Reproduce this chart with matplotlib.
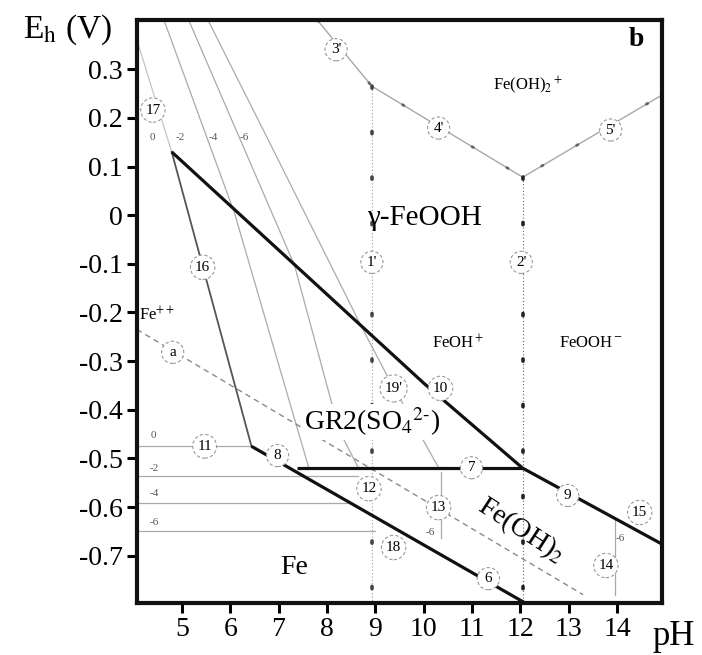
import matplotlib
matplotlib.use("Agg")
import matplotlib.pyplot as plt

plt.rcParams['font.family'] = ['Liberation Serif', 'DejaVu Serif']
plt.rcParams['mathtext.fontset'] = 'stix'
plt.rcParams['axes.unicode_minus'] = False

# ---- axis ticks ----
ph_ticks = [5, 6, 7, 8, 9, 10, 11, 12, 13, 14]
eh_ticks = [0.3, 0.2, 0.1, 0.0, -0.1, -0.2, -0.3, -0.4, -0.5, -0.6, -0.7]
eh_ticklabels = ['0.3', '0.2', '0.1', '0', '-0.1', '-0.2', '-0.3',
                 '-0.4', '-0.5', '-0.6', '-0.7']

# ---- thick phase boundaries ----
gr_feooh_ph = [4.79, 10.0, 12.05, 14.93]      # GR2 / Fe(OH)2 vs gamma-FeOOH
gr_feooh_eh = [0.130, -0.345, -0.520, -0.676]
gr_feoh2_ph = [7.39, 12.05]                   # horizontal boundary (7)
gr_feoh2_eh = [-0.520, -0.520]
fe_ph = [6.44, 12.10]                         # Fe boundary (8)-(6)
fe_eh = [-0.475, -0.797]

# ---- Fe2+ / GR2 line (16) ----
l16_ph = [4.79, 6.44]
l16_eh = [0.130, -0.475]

# ---- Fe2+ / gamma-FeOOH lines (17) for log a(Fe2+) = 0, -2, -4, -6 ----
l17_0_ph = [4.07, 4.79]
l17_0_eh = [0.360, 0.130]
l17_2_ph = [4.63, 6.09, 7.63]
l17_2_eh = [0.401, 0.004, -0.521]
l17_4_ph = [5.14, 7.33, 8.25, 8.66]
l17_4_eh = [0.401, -0.103, -0.442, -0.521]
l17_6_ph = [5.54, 6.77, 8.72, 9.22, 10.31]
l17_6_eh = [0.401, 0.158, -0.230, -0.325, -0.519]
conc_labels = ['0', '-2', '-4', '-6']
conc_label_ph = [4.38, 4.96, 5.64, 6.30]
conc_label_eh = 0.160

# ---- Fe2+ / Fe horizontal lines (11) ----
fe2_levels = [-0.475, -0.535, -0.592, -0.650]
fe2_end_ph = [6.44, 8.65, 8.50, 9.00]
fe2_label_eh = [-0.453, -0.521, -0.572, -0.632]
fe2_label_ph = 4.42

# ---- water line (a) ----
water_ph = [4.07, 13.30]
water_eh = [-0.235, -0.780]

# ---- Fe(III) species line (3', 4', 5') ----
fe3_ph = [7.80, 8.93, 12.05, 14.93]
fe3_eh = [0.401, 0.265, 0.078, 0.247]

# ---- vertical speciation lines ----
v1_ph, v1_eh = [8.93, 8.93], [0.265, -0.797]     # (1')
v2_ph, v2_eh = [12.05, 12.05], [0.078, -0.797]   # (2')
v13_ph, v13_eh = [10.35, 10.35], [-0.527, -0.663]
v14_ph, v14_eh = [13.95, 13.95], [-0.626, -0.780]
minus6_ph = [10.14, 14.07]
minus6_eh = [-0.652, -0.665]

# ---- numbered circles ----
circ_labels = ["3'", "4'", "5'", "17", "16", "1'", "2'", "a", "19'", "10",
               "11", "8", "7", "9", "12", "13", "15", "18", "6", "14"]
circ_ph = [8.19, 10.31, 13.87, 4.40, 5.43, 8.93, 12.02, 4.81, 9.38, 10.35,
           5.47, 6.98, 10.99, 12.98, 8.87, 10.31, 14.47, 9.38, 11.34, 13.77]
circ_eh = [0.340, 0.179, 0.175, 0.216, -0.107, -0.097, -0.097, -0.282, -0.356,
           -0.356, -0.475, -0.494, -0.519, -0.576, -0.562, -0.601, -0.611,
           -0.683, -0.747, -0.720]

fig = plt.figure(figsize=(7.02, 6.55), dpi=100)
ax = fig.add_axes([0.195, 0.0794, 0.748, 0.890])
ax.set_xlim(4.07, 14.93)
ax.set_ylim(-0.797, 0.401)

thin = dict(color='#aaaaaa', lw=0.9, zorder=2)
thick = dict(color='#111111', lw=2.3, zorder=4, solid_capstyle='butt')

# light grey lines
ax.plot(l17_0_ph, l17_0_eh, color='#c4c4c4', lw=0.9, zorder=2)
ax.plot(l17_2_ph, l17_2_eh, **thin)
ax.plot(l17_4_ph, l17_4_eh, **thin)
ax.plot(l17_6_ph, l17_6_eh, **thin)
for lev, end in zip(fe2_levels, fe2_end_ph):
    ax.plot([4.07, end], [lev, lev], **thin)
ax.plot(fe3_ph, fe3_eh, color='#a8a8a8', lw=1.0, zorder=2)
ax.plot(fe3_ph, fe3_eh, color='#666666', lw=2.0, ls=(0, (0.6, 14)),
        dash_capstyle='round', zorder=2)
ax.plot(v13_ph, v13_eh, **thin)
ax.plot(v14_ph, v14_eh, **thin)

# line 16
ax.plot(l16_ph, l16_eh, color='#555555', lw=1.3, zorder=3)

# water line
ax.plot(water_ph, water_eh, color='#8a8a8a', lw=1.0, ls=(0, (4, 3)), zorder=2)

# dotted verticals
for vx, vy, c, dc in [(v1_ph, v1_eh, '#999999', '#444444'),
                      (v2_ph, v2_eh, '#666666', '#222222')]:
    ax.plot(vx, vy, color=c, lw=0.8, ls=(0, (1, 2)), zorder=2)
    ax.plot(vx, vy, color=dc, lw=2.6, ls=(0, (0.6, 12)),
            dash_capstyle='round', zorder=2)

# thick boundaries
ax.plot(gr_feooh_ph, gr_feooh_eh, **thick)
ax.plot(gr_feoh2_ph, gr_feoh2_eh, **thick)
ax.plot(fe_ph, fe_eh, **thick)

# concentration labels
for lab, x in zip(conc_labels, conc_label_ph):
    ax.text(x, conc_label_eh, lab, fontsize=8, color='#555555',
            ha='center', va='center', zorder=6)
for lab, y in zip(conc_labels, fe2_label_eh):
    ax.text(fe2_label_ph, y, lab, fontsize=8, color='#555555',
            ha='center', va='center', zorder=6)
for x, y in zip(minus6_ph, minus6_eh):
    ax.text(x, y, '-6', fontsize=8, color='#555555',
            ha='center', va='center', zorder=6)

# numbered circles
for lab, x, y in zip(circ_labels, circ_ph, circ_eh):
    ax.text(x, y, lab, fontsize=11, ha='center', va='center', zorder=7,
            bbox=dict(boxstyle='circle,pad=0.3', fc='white', ec='#9a9a9a',
                      lw=0.8, ls=(0, (3, 2))))

# region labels
ax.text(10.02, -0.006, 'γ-FeOOH', fontsize=21, ha='center', va='center', zorder=6)
ax.text(8.93, -0.425, r'GR2(SO$_4$$^{2\text{-}}$)', fontsize=20,
        ha='center', va='center', zorder=6,
        bbox=dict(boxstyle='square,pad=0.05', fc='white', ec='none'))
ax.text(12.02, -0.648, r'Fe(OH)$_2$', fontsize=20, rotation=-33,
        ha='center', va='center', zorder=6)
ax.text(7.33, -0.724, 'Fe', fontsize=20, ha='center', va='center', zorder=6)
ax.text(4.48, -0.206, r'Fe$^{++}$', fontsize=12, ha='center', va='center', zorder=6)
ax.text(10.72, -0.263, r'FeOH$^+$', fontsize=12, ha='center', va='center', zorder=6)
ax.text(13.46, -0.263, r'FeOOH$^-$', fontsize=12, ha='center', va='center', zorder=6)
ax.text(12.16, 0.267, r'Fe(OH)$_2$$^+$', fontsize=12, ha='center', va='center', zorder=6)
ax.text(14.40, 0.360, 'b', fontsize=20, fontweight='bold',
        ha='center', va='center', zorder=6)

# axes styling
for s in ax.spines.values():
    s.set_linewidth(3.0)
    s.set_color('#111111')
ax.set_xticks(ph_ticks)
ax.set_xticklabels([str(t) for t in ph_ticks])
ax.set_yticks(eh_ticks)
ax.set_yticklabels(eh_ticklabels)
ax.tick_params(direction='out', length=7, width=2.2, labelsize=20, pad=3)

fig.text(0.097, 0.955, r'E$_\mathrm{h}$ (V)', fontsize=24, ha='center', va='center')
fig.text(0.96, 0.028, 'pH', fontsize=25, ha='center', va='center')

fig.savefig('out.png', dpi=100)
